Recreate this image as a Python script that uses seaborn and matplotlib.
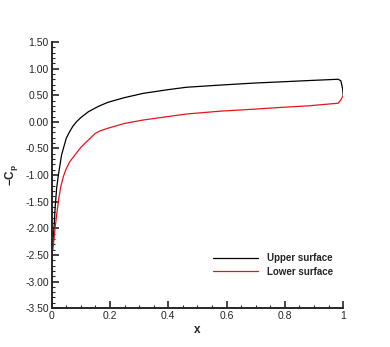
import numpy as np
import pandas as pd
import matplotlib
matplotlib.use("Agg")
import matplotlib.pyplot as plt
import matplotlib.ticker as mticker
import seaborn as sns

# ── Data ──────────────────────────────────────────────────────────────────────
upper_x  = [0.0, 0.004, 0.008, 0.012, 0.017, 0.023, 0.034, 0.05, 0.06, 0.073,
            0.085, 0.1, 0.126, 0.16, 0.193, 0.25, 0.314, 0.4, 0.463, 0.577,
            0.7, 0.783, 0.88, 0.983, 0.992, 0.998, 1.0]
upper_cp = [-2.45, -2.3, -2.0, -1.6, -1.25, -1.0, -0.62, -0.31, -0.2, -0.08,
            0.0, 0.08, 0.19, 0.29, 0.367, 0.455, 0.535, 0.605, 0.65, 0.69,
            0.73, 0.75, 0.775, 0.80, 0.77, 0.62, 0.50]
lower_x  = [0.0, 0.004, 0.011, 0.019, 0.025, 0.032, 0.04, 0.05, 0.062, 0.08,
            0.1, 0.126, 0.149, 0.166, 0.193, 0.25, 0.314, 0.4, 0.463, 0.577,
            0.7, 0.783, 0.88, 0.983, 0.993, 1.0]
lower_cp = [-2.45, -2.41, -2.03, -1.66, -1.42, -1.2, -1.03, -0.88, -0.75, -0.62,
            -0.48, -0.34, -0.22, -0.17, -0.12, -0.03, 0.034, 0.1, 0.147, 0.20,
            0.24, 0.27, 0.30, 0.35, 0.42, 0.50]

df = pd.concat([
    pd.DataFrame({"x": upper_x, "cp": upper_cp, "surface": "Upper surface"}),
    pd.DataFrame({"x": lower_x, "cp": lower_cp, "surface": "Lower surface"}),
])

# ── Style ─────────────────────────────────────────────────────────────────────
sns.set_theme(style="ticks")
plt.rcParams["font.family"] = ["Liberation Sans", "DejaVu Sans"]
plt.rcParams["mathtext.fontset"] = "custom"
plt.rcParams["mathtext.rm"] = "Liberation Sans"
plt.rcParams["mathtext.bf"] = "Liberation Sans:bold"
plt.rcParams["mathtext.it"] = "Liberation Sans:italic"

fig = plt.figure(figsize=(3.9, 3.47), dpi=100)
ax = fig.add_axes([0.1325, 0.112, 0.7475, 0.767])

sns.lineplot(data=df, x="x", y="cp", hue="surface", sort=False, estimator=None,
             palette={"Upper surface": "black", "Lower surface": "#e8141c"},
             linewidth=0.9, ax=ax)

ax.set_xlim(0, 1)
ax.set_ylim(-3.5, 1.5)
ax.xaxis.set_major_locator(mticker.MultipleLocator(0.2))
ax.xaxis.set_minor_locator(mticker.MultipleLocator(0.05))
ax.yaxis.set_major_locator(mticker.MultipleLocator(0.5))
ax.yaxis.set_minor_locator(mticker.MultipleLocator(0.1))
ax.xaxis.set_major_formatter(mticker.FuncFormatter(lambda v, _: f"{v:g}"))
ax.yaxis.set_major_formatter(mticker.FuncFormatter(lambda v, _: f"{v:.2f}".replace("-0.00", "0.00")))
ax.tick_params(which="major", direction="in", length=5, width=1.2, labelsize=7.5, pad=2)
ax.tick_params(which="minor", direction="in", length=2.5, width=0.8)
sns.despine(ax=ax)
for s in ("left", "bottom"):
    ax.spines[s].set_linewidth(1.4)

ax.set_xlabel("x", fontsize=8.5, fontweight="bold", labelpad=2)
ax.set_ylabel(r"$\mathbf{-C_p}$", fontsize=8.5, labelpad=4)

ax.legend(loc="lower right", bbox_to_anchor=(0.995, 0.085), frameon=False,
          handlelength=4.6, handletextpad=0.9, labelspacing=0.35,
          prop={"weight": "bold", "size": 7})

fig.savefig("out.png", dpi=100)
